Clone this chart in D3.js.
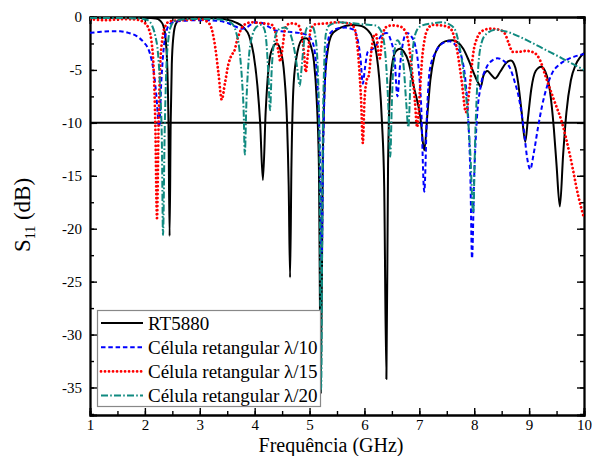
<!DOCTYPE html>
<html>
<head>
<meta charset="utf-8">
<script src="https://cdn.jsdelivr.net/npm/d3@7"></script>
<style>
  html, body { margin: 0; padding: 0; background: #fff; }
  svg { display: block; }
  text { font-family: "Liberation Serif", "Times New Roman", serif; fill: #000; }
</style>
</head>
<body>
<svg id="chart" width="592" height="456"></svg>
<script>
// ---- data (frequency in GHz, S11 in dB) ----
const xTicks = [1, 2, 3, 4, 5, 6, 7, 8, 9, 10];
const yTicks = [0, -5, -10, -15, -20, -25, -30, -35];
const refLevel = -10;
const seriesNames = ["RT5880", "Célula retangular λ/10", "Célula retangular λ/15", "Célula retangular λ/20"];

const rt5880 = [[1.0,-0.05],[1.5,-0.05],[2.0,-0.08],[2.2,-0.15],[2.28,-0.35],[2.34,-0.9],[2.38,-2.2],[2.41,-5],[2.43,-10],[2.45,-20.7],[2.47,-10],[2.49,-4.5],[2.52,-1.8],[2.56,-0.7],[2.62,-0.3],[2.75,-0.15],[3.0,-0.1],[3.3,-0.12],[3.5,-0.25],[3.65,-0.5],[3.8,-1.0],[3.9,-1.8],[3.98,-3.5],[4.05,-6.5],[4.1,-10],[4.15,-15.4],[4.2,-9],[4.25,-5],[4.3,-3.3],[4.4,-2.5],[4.48,-3.3],[4.54,-5.5],[4.59,-10],[4.62,-16],[4.645,-24.6],[4.67,-14],[4.71,-6.3],[4.78,-3.3],[4.87,-2.1],[4.94,-2.0],[5.02,-2.7],[5.08,-4.2],[5.13,-7.8],[5.17,-14],[5.205,-35.5],[5.24,-14],[5.28,-6],[5.33,-3.2],[5.4,-1.7],[5.5,-1.2],[5.65,-0.85],[5.8,-0.75],[5.95,-0.85],[6.05,-1.2],[6.15,-2.0],[6.22,-3.5],[6.27,-5.8],[6.32,-10],[6.36,-16],[6.4,-34.2],[6.43,-14],[6.47,-6.3],[6.52,-4.0],[6.58,-3.2],[6.65,-3.0],[6.72,-3.3],[6.8,-4.2],[6.9,-6.6],[7.02,-9.5],[7.09,-12.6],[7.15,-9],[7.2,-6],[7.27,-3.8],[7.38,-2.6],[7.47,-2.3],[7.6,-2.2],[7.7,-2.4],[7.8,-3],[7.9,-4.1],[8.0,-5.4],[8.07,-6.2],[8.12,-6.6],[8.17,-5.5],[8.24,-5.1],[8.3,-5.4],[8.38,-5.8],[8.47,-5.2],[8.57,-4.4],[8.67,-4.1],[8.75,-4.8],[8.8,-6.2],[8.86,-8.8],[8.93,-11.8],[8.98,-9.5],[9.04,-6.8],[9.12,-5.1],[9.22,-4.7],[9.32,-5.5],[9.38,-7],[9.45,-10.5],[9.5,-14],[9.56,-17.9],[9.62,-13],[9.68,-9],[9.76,-6],[9.85,-4.5],[9.93,-3.8],[10,-3.4]];

const lambda10 = [[1.0,-1.5],[1.2,-1.4],[1.4,-1.35],[1.55,-1.35],[1.7,-1.5],[1.85,-1.8],[1.98,-2.4],[2.06,-3.0],[2.12,-4],[2.17,-5.5],[2.21,-7.5],[2.26,-10.4],[2.3,-6],[2.35,-2.6],[2.4,-1.2],[2.47,-0.6],[2.6,-0.4],[3.0,-0.3],[3.3,-0.35],[3.5,-0.55],[3.65,-0.9],[3.77,-1.1],[3.88,-0.9],[4.0,-0.5],[4.12,-0.55],[4.25,-0.9],[4.4,-1.3],[4.6,-1.4],[4.8,-1.5],[4.95,-1.7],[5.04,-2.2],[5.1,-3.5],[5.15,-7],[5.19,-13],[5.22,-23],[5.25,-12],[5.29,-5],[5.33,-2.5],[5.38,-1.5],[5.5,-1.1],[5.65,-1.0],[5.8,-1.2],[5.87,-2],[5.93,-4],[5.97,-6.3],[6.01,-4.8],[6.06,-3.3],[6.12,-3.1],[6.2,-2.8],[6.3,-1.8],[6.4,-1.5],[6.48,-2.2],[6.55,-4],[6.6,-7.5],[6.65,-4.5],[6.7,-2.5],[6.77,-1.5],[6.85,-1.8],[6.92,-2.6],[6.98,-4.5],[7.03,-8],[7.09,-16.5],[7.14,-9],[7.19,-5],[7.3,-3.3],[7.42,-2.5],[7.55,-2.3],[7.68,-2.8],[7.77,-3.8],[7.84,-6],[7.89,-9.5],[7.93,-15],[7.96,-22.8],[8.0,-15],[8.05,-9.5],[8.12,-6.5],[8.22,-4.8],[8.33,-4.1],[8.42,-3.9],[8.55,-4.2],[8.65,-4.8],[8.73,-6],[8.82,-7.8],[8.9,-10.5],[8.97,-13.5],[9.02,-14.4],[9.08,-13],[9.16,-10.5],[9.24,-8.3],[9.33,-6.5],[9.42,-5.3],[9.55,-4.5],[9.7,-4.0],[9.85,-3.7],[10,-3.5]];

const lambda15 = [[1.0,-0.2],[1.3,-0.3],[1.6,-0.2],[1.85,-0.25],[1.98,-0.5],[2.06,-1.0],[2.12,-2.3],[2.16,-5],[2.19,-10],[2.22,-19],[2.25,-10],[2.28,-4.5],[2.32,-2],[2.37,-0.9],[2.45,-0.4],[2.7,-0.3],[3.0,-0.2],[3.15,-0.5],[3.22,-1.2],[3.28,-2.8],[3.34,-5.3],[3.4,-7.8],[3.46,-6.2],[3.52,-4.5],[3.58,-3.6],[3.63,-3.2],[3.68,-2.2],[3.74,-1.3],[3.82,-0.7],[3.95,-0.5],[4.15,-0.6],[4.3,-0.7],[4.38,-1.5],[4.43,-3.2],[4.47,-4.2],[4.51,-2.8],[4.56,-1.0],[4.65,-0.6],[4.78,-0.7],[4.85,-1.5],[4.9,-3.5],[4.93,-5.2],[4.97,-3.5],[5.02,-1.2],[5.1,-0.7],[5.3,-0.6],[5.5,-0.5],[5.7,-0.6],[5.8,-0.9],[5.86,-2.2],[5.9,-4.5],[5.94,-8],[5.97,-11.9],[6.0,-8],[6.04,-6],[6.08,-5.5],[6.12,-3.5],[6.17,-1.8],[6.21,-1.6],[6.25,-3.2],[6.28,-3.9],[6.32,-2.2],[6.38,-1.0],[6.5,-0.8],[6.65,-0.9],[6.75,-1.4],[6.82,-3],[6.87,-5.3],[6.92,-8],[6.96,-10.4],[7.01,-7],[7.05,-4],[7.1,-2],[7.17,-1.0],[7.24,-0.75],[7.4,-0.8],[7.55,-1.0],[7.63,-1.8],[7.7,-3.5],[7.77,-6],[7.85,-9],[7.92,-6.5],[7.98,-3.5],[8.06,-1.9],[8.15,-1.3],[8.3,-1.1],[8.45,-1.2],[8.55,-1.5],[8.63,-2.5],[8.7,-3.3],[8.8,-3.3],[8.95,-3.2],[9.1,-3.4],[9.2,-4.1],[9.3,-5.6],[9.45,-7.8],[9.6,-10],[9.75,-13.2],[9.9,-17],[10,-19]];

const lambda20 = [[1.0,-0.1],[1.5,-0.1],[1.9,-0.15],[2.05,-0.3],[2.13,-0.8],[2.19,-1.8],[2.24,-3.5],[2.28,-7],[2.31,-12],[2.33,-20.6],[2.36,-11],[2.39,-5],[2.43,-2],[2.48,-0.8],[2.56,-0.35],[2.8,-0.2],[3.2,-0.2],[3.45,-0.3],[3.58,-0.6],[3.66,-1.4],[3.72,-3],[3.77,-6],[3.8,-9],[3.82,-13],[3.85,-8],[3.9,-3.5],[3.96,-1.7],[4.04,-0.9],[4.12,-0.75],[4.18,-1.2],[4.22,-2.8],[4.25,-5.5],[4.28,-8.8],[4.31,-5],[4.36,-2.2],[4.43,-1.2],[4.55,-1.0],[4.65,-1.6],[4.72,-3.0],[4.78,-5],[4.82,-6.5],[4.86,-4.5],[4.9,-2.3],[4.96,-1.0],[5.05,-0.9],[5.11,-2],[5.15,-5],[5.18,-12],[5.21,-35.3],[5.24,-12],[5.27,-4],[5.3,-1.5],[5.36,-0.8],[5.55,-0.5],[5.8,-0.6],[6.0,-0.7],[6.2,-0.8],[6.3,-1.3],[6.36,-2.5],[6.41,-5.7],[6.44,-9],[6.47,-13.2],[6.5,-8],[6.54,-3.5],[6.6,-2.2],[6.66,-2.8],[6.72,-5],[6.76,-8],[6.8,-10.4],[6.84,-6],[6.88,-3.1],[6.95,-1.3],[7.05,-0.8],[7.24,-0.6],[7.4,-0.5],[7.55,-0.7],[7.65,-1.2],[7.72,-2.5],[7.8,-5],[7.87,-8.5],[7.93,-13],[7.98,-18.5],[8.02,-11],[8.07,-5],[8.13,-2.5],[8.22,-1.6],[8.4,-1.2],[8.6,-1.4],[8.8,-1.8],[9.0,-2.3],[9.3,-3.1],[9.6,-3.9],[9.85,-4.6],[10,-5.0]];

// ---- layout ----
const svg = d3.select("#chart");
const L = 90, R = 584, T = 17, B = 415;
const x = d3.scaleLinear().domain([1, 10]).range([L, R]);
const y = d3.scaleLinear().domain([-37.6, 0]).range([B, T]);

const styles = [
  { data: rt5880,   color: "#000000", dash: null,        width: 2.0, cap: "butt" },
  { data: lambda10, color: "#0000ff", dash: "4.5,2.8",   width: 2.0, cap: "butt" },
  { data: lambda15, color: "#ff0000", dash: "0.01,4.0",  width: 2.8, cap: "round" },
  { data: lambda20, color: "#108a80", dash: "7,2.2,1.6,2.2", width: 2.0, cap: "butt" }
];

svg.append("defs").append("clipPath").attr("id", "clip")
  .append("rect").attr("x", L).attr("y", T).attr("width", R - L).attr("height", B - T);

// ---- axes (ticks inside) ----
const minorX = d3.range(1, 10.01, 0.5);
const minorY = d3.range(0, -37.6, -2.5);

svg.append("g").attr("transform", `translate(0,${B})`).call(d3.axisBottom(x).tickValues(minorX).tickSize(-4).tickFormat(""));
svg.append("g").attr("transform", `translate(0,${T})`).call(d3.axisTop(x).tickValues(minorX).tickSize(-4).tickFormat(""));
svg.append("g").attr("transform", `translate(${L},0)`).call(d3.axisLeft(y).tickValues(minorY).tickSize(-4).tickFormat(""));
svg.append("g").attr("transform", `translate(${R},0)`).call(d3.axisRight(y).tickValues(minorY).tickSize(-4).tickFormat(""));

svg.append("g").attr("transform", `translate(0,${B})`)
  .call(d3.axisBottom(x).tickValues(xTicks).tickSize(-7).tickPadding(4).tickFormat(d3.format("d")))
  .call(g => g.selectAll("text").attr("font-size", 15).attr("font-family", "Liberation Serif").attr("fill", "#000"));
svg.append("g").attr("transform", `translate(0,${T})`)
  .call(d3.axisTop(x).tickValues(xTicks).tickSize(-7).tickFormat(""));
svg.append("g").attr("transform", `translate(${L},0)`)
  .call(d3.axisLeft(y).tickValues(yTicks).tickSize(-7).tickPadding(8).tickFormat(d => d === 0 ? "0" : "-" + Math.abs(d)))
  .call(g => g.selectAll("text").attr("font-size", 15).attr("font-family", "Liberation Serif").attr("fill", "#000"));
svg.append("g").attr("transform", `translate(${R},0)`)
  .call(d3.axisRight(y).tickValues(yTicks).tickSize(-7).tickFormat(""));

svg.selectAll(".domain").attr("stroke", "#000").attr("stroke-width", 1.8);
svg.selectAll(".tick line").attr("stroke", "#000").attr("stroke-width", 1.4);

// ---- reference line ----
svg.append("line")
  .attr("x1", x(1)).attr("x2", x(10))
  .attr("y1", y(refLevel)).attr("y2", y(refLevel))
  .attr("stroke", "#000").attr("stroke-width", 2);

// ---- series ----
const line = d3.line().x(d => x(d[0])).y(d => y(d[1])).curve(d3.curveMonotoneX);
const plot = svg.append("g").attr("clip-path", "url(#clip)");
styles.forEach(s => {
  plot.append("path").datum(s.data)
    .attr("d", line)
    .attr("fill", "none")
    .attr("stroke", s.color)
    .attr("stroke-width", s.width)
    .attr("stroke-linecap", s.cap)
    .attr("stroke-linejoin", "round")
    .attr("stroke-dasharray", s.dash);
});

// ---- legend ----
const lg = svg.append("g");
lg.append("rect").attr("x", 97.5).attr("y", 310.5).attr("width", 223).attr("height", 96)
  .attr("fill", "#fff").attr("stroke", "#888").attr("stroke-width", 1.2);
seriesNames.forEach((name, i) => {
  const s = styles[i];
  const yy = 323 + i * 24.2;
  lg.append("line").attr("x1", 101).attr("x2", 143).attr("y1", yy).attr("y2", yy)
    .attr("stroke", s.color).attr("stroke-width", s.width)
    .attr("stroke-linecap", s.cap).attr("stroke-dasharray", s.dash);
  lg.append("text").attr("x", 148).attr("y", yy + 6.5)
    .attr("font-size", 19).text(name);
});

// ---- axis titles ----
svg.append("text").attr("x", 331).attr("y", 452)
  .attr("text-anchor", "middle").attr("font-size", 20).text("Frequência (GHz)");

const yt = svg.append("text")
  .attr("transform", "translate(30,215) rotate(-90)")
  .attr("text-anchor", "middle").attr("font-size", 23);
yt.append("tspan").text("S");
yt.append("tspan").attr("font-size", 14).attr("dy", 5).text("11");
yt.append("tspan").attr("dy", -5).text(" (dB)");
</script>
</body>
</html>
